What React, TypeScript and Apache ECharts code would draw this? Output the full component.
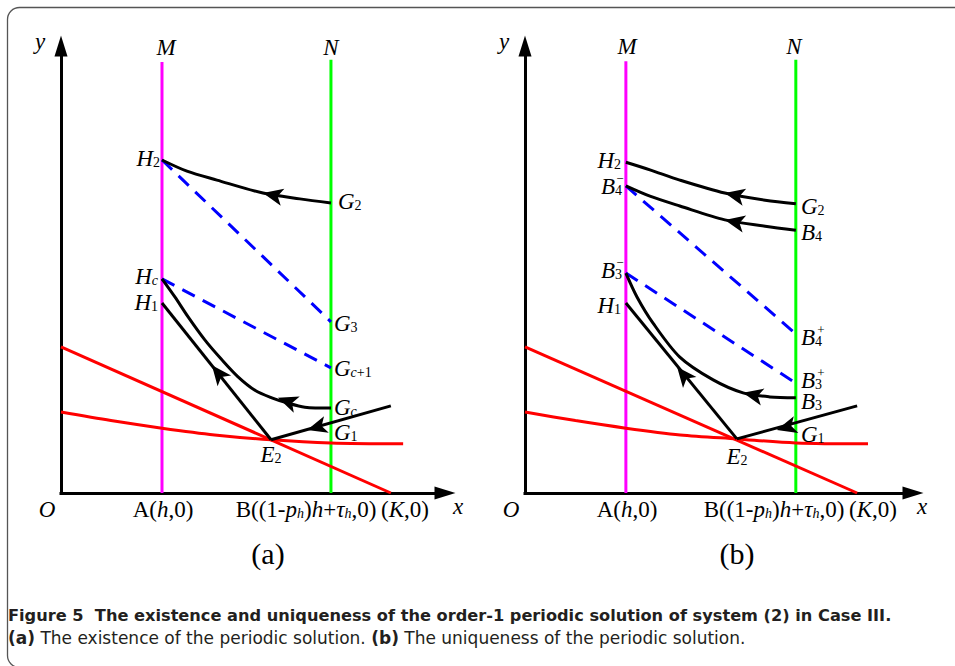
import React, { useEffect, useRef } from 'react';
import * as echarts from 'echarts';

// ---------- Panel (a) data (axis units: x 0..10, y 0..10) ----------
const aMagenta = [[2.63, 0], [2.63, 9.64]];
const aGreen = [[7.03, 0], [7.03, 9.69]];
const aRedLine = [[0, 3.27], [8.59, 0]];
const aRedCurve = [[0, 1.81], [1.3, 1.62], [2.63, 1.45], [4.0, 1.3], [5.47, 1.19], [7.03, 1.12], [8.91, 1.1]];
const aCurveG2H2 = [[7.03, 6.49], [6.22, 6.58], [5.26, 6.71], [4.06, 7.0], [3.28, 7.2], [2.63, 7.45]];
const aCurveGcHc = [
  [7.03, 1.9], [6.35, 1.92], [5.91, 2.01], [5.49, 2.13], [5.05, 2.3], [4.61, 2.6],
  [4.19, 2.98], [3.75, 3.42], [3.31, 3.94], [2.97, 4.38], [2.63, 4.79],
];
const aLineE2H1 = [[5.47, 1.19], [2.63, 4.25]];
const aLineG1E2 = [[8.59, 1.95], [5.47, 1.19]];
const aDashH2G3 = [[2.63, 7.45], [7.03, 3.83]];
const aDashHcGc1 = [[2.63, 4.79], [7.03, 2.8]];
// [x, y, rotation deg]
const aArrows = [[5.26, 6.71, 78], [5.65, 2.13, 70], [3.93, 2.86, 38.5], [6.41, 1.41, 105.8]];

// ---------- Panel (b) data ----------
const bMagenta = [[2.6, 0], [2.6, 9.66]];
const bGreen = [[6.98, 0], [6.98, 9.69]];
const bRedLine = [[0, 3.27], [8.56, 0]];
const bRedCurve = [[0, 1.81], [1.3, 1.62], [2.6, 1.45], [4.0, 1.3], [5.46, 1.21], [6.98, 1.12], [8.84, 1.1]];
const bCurveG2H2 = [[6.98, 6.47], [6.19, 6.55], [5.15, 6.71], [3.99, 7.0], [3.22, 7.23], [2.6, 7.4]];
const bCurveB4 = [[6.98, 5.88], [6.19, 5.97], [5.15, 6.11], [3.99, 6.42], [3.22, 6.64], [2.6, 6.87]];
const bCurveB3 = [
  [6.98, 2.13], [6.31, 2.15], [5.62, 2.24], [4.85, 2.53], [3.99, 3.04],
  [3.3, 3.8], [2.89, 4.38], [2.6, 4.92],
];
const bLineE2H1 = [[5.46, 1.21], [2.6, 4.25]];
const bLineG1E2 = [[8.56, 1.95], [5.46, 1.21]];
const bDashB4 = [[2.6, 6.87], [6.98, 3.56]];
const bDashB3 = [[2.6, 4.92], [6.98, 2.46]];
const bArrows = [[5.15, 6.71, 78], [5.15, 6.11, 78], [5.62, 2.24, 78], [3.92, 2.82, 39.2], [6.49, 1.41, 105.4]];

const captionTitle = 'Figure 5  The existence and uniqueness of the order-1 periodic solution of system (2) in Case III.';
const captionBody = ['(a)', ' The existence of the periodic solution. ', '(b)', ' The uniqueness of the periodic solution.'];

const SERIF = '"Liberation Serif", "Times New Roman", serif';
const SANS = '"DejaVu Sans", "Noto Sans", sans-serif';

const rich = {
  m: { fontFamily: SERIF, fontStyle: 'italic', fontSize: 23, lineHeight: 22, fill: '#000' },
  u: { fontFamily: SERIF, fontSize: 23, lineHeight: 22, fill: '#000' },
  ui: { fontFamily: SERIF, fontStyle: 'italic', fontSize: 23, lineHeight: 22, fill: '#000' },
  s: { fontFamily: SERIF, fontSize: 14, lineHeight: 10, verticalAlign: 'bottom', fill: '#000' },
  si: { fontFamily: SERIF, fontStyle: 'italic', fontSize: 14, lineHeight: 10, verticalAlign: 'bottom', fill: '#000' },
};

function txt(x: number, y: number, text: string, align: string = 'left') {
  return {
    type: 'text',
    x,
    y,
    silent: true,
    z: 100,
    style: {
      text,
      rich,
      align,
      textAlign: align,
      verticalAlign: 'middle',
      textVerticalAlign: 'middle',
      fill: '#000',
    },
  };
}

function small(x: number, y: number, text: string) {
  return {
    type: 'text',
    x,
    y,
    silent: true,
    z: 100,
    style: {
      text,
      font: `13px ${SERIF}`,
      fill: '#000',
      align: 'center',
      textAlign: 'center',
      verticalAlign: 'middle',
      textVerticalAlign: 'middle',
    },
  };
}

function line(data: number[][], idx: number, color: string, width = 3, smooth: any = false, dashed = false, z = 3) {
  return {
    type: 'line',
    xAxisIndex: idx,
    yAxisIndex: idx,
    data,
    smooth,
    symbol: 'none',
    showSymbol: false,
    silent: true,
    z,
    lineStyle: { color, width, type: dashed ? [14, 9] : 'solid', cap: 'butt' },
  };
}

function arrows(data: number[][], idx: number) {
  return {
    type: 'scatter',
    xAxisIndex: idx,
    yAxisIndex: idx,
    silent: true,
    z: 6,
    symbol: 'arrow',
    symbolSize: [13, 20],
    itemStyle: { color: '#000', opacity: 1 },
    data: data.map((d) => ({ value: [d[0], d[1]], symbolRotate: d[2] })),
  };
}

function axisPair(idx: number) {
  const common = {
    type: 'value',
    gridIndex: idx,
    min: 0,
    max: 10,
    axisTick: { show: false },
    axisLabel: { show: false },
    splitLine: { show: false },
    axisLine: {
      show: true,
      symbol: ['none', 'triangle'],
      symbolSize: [13, 21],
      lineStyle: { color: '#000', width: 3, cap: 'square' },
    },
  };
  return { x: { ...common }, y: { ...common } };
}

export default function App() {
  const ref = useRef<HTMLDivElement>(null);
  useEffect(() => {
    if (!ref.current) return;
    const chart = echarts.init(ref.current, null, { renderer: 'svg' });
    const ax0 = axisPair(0);
    const ax1 = axisPair(1);

    const graphics: any[] = [
      {
        type: 'rect',
        shape: { x: 7.5, y: 7.5, width: 1000, height: 660, r: 12 },
        style: { fill: 'none', stroke: '#555', lineWidth: 1.3 },
        silent: true,
        z: 0,
      },
      // panel (a) labels
      txt(40, 41, '{m|y}', 'center'),
      txt(166, 47, '{m|M}', 'center'),
      txt(331, 47, '{m|N}', 'center'),
      txt(47, 509, '{m|O}', 'center'),
      txt(458, 506, '{m|x}', 'center'),
      txt(160, 158, '{m|H}{s|2}', 'right'),
      txt(158, 276, '{m|H}{si|c}', 'right'),
      txt(158, 302, '{m|H}{s|1}', 'right'),
      txt(338, 201, '{m|G}{s|2}', 'left'),
      txt(334, 323, '{m|G}{s|3}', 'left'),
      txt(334, 368, '{m|G}{si|c}{s|+1}', 'left'),
      txt(334, 407, '{m|G}{si|c}', 'left'),
      txt(334, 432, '{m|G}{s|1}', 'left'),
      txt(271, 454, '{m|E}{s|2}', 'center'),
      txt(163, 509, '{u|A(}{ui|h}{u|,0)}', 'center'),
      txt(306, 509, '{u|B((1-}{ui|p}{si|h}{u|)}{ui|h}{u|+}{ui|τ}{si|h}{u|,0)}', 'center'),
      txt(405, 509, '{u|(}{ui|K}{u|,0)}', 'center'),
      {
        type: 'text', x: 268, y: 553, silent: true,
        style: { text: '(a)', font: `30px ${SERIF}`, fill: '#000', align: 'center', textAlign: 'center', verticalAlign: 'middle', textVerticalAlign: 'middle' },
      },
      // panel (b) labels
      txt(504, 41, '{m|y}', 'center'),
      txt(627, 46, '{m|M}', 'center'),
      txt(794, 46, '{m|N}', 'center'),
      txt(511, 509, '{m|O}', 'center'),
      txt(922, 506, '{m|x}', 'center'),
      txt(621, 160, '{m|H}{s|2}', 'right'),
      txt(622, 186, '{m|B}{s|4}', 'right'),
      small(620, 178, '−'),
      txt(622, 270, '{m|B}{s|3}', 'right'),
      small(620, 262, '−'),
      txt(621, 305, '{m|H}{s|1}', 'right'),
      txt(801, 206, '{m|G}{s|2}', 'left'),
      txt(801, 232, '{m|B}{s|4}', 'left'),
      txt(801, 337, '{m|B}{s|4}', 'left'),
      small(821, 329, '+'),
      txt(801, 380, '{m|B}{s|3}', 'left'),
      small(821, 372, '+'),
      txt(801, 401, '{m|B}{s|3}', 'left'),
      txt(801, 434, '{m|G}{s|1}', 'left'),
      txt(737, 456, '{m|E}{s|2}', 'center'),
      txt(627, 509, '{u|A(}{ui|h}{u|,0)}', 'center'),
      txt(774, 509, '{u|B((1-}{ui|p}{si|h}{u|)}{ui|h}{u|+}{ui|τ}{si|h}{u|,0)}', 'center'),
      txt(873, 509, '{u|(}{ui|K}{u|,0)}', 'center'),
      {
        type: 'text', x: 737, y: 553, silent: true,
        style: { text: '(b)', font: `30px ${SERIF}`, fill: '#000', align: 'center', textAlign: 'center', verticalAlign: 'middle', textVerticalAlign: 'middle' },
      },
      // caption
      {
        type: 'text', x: 8, y: 615, silent: true,
        style: { text: captionTitle, font: `bold 16.2px ${SANS}`, fill: '#231f20', align: 'left', textAlign: 'left', verticalAlign: 'middle', textVerticalAlign: 'middle' },
      },
      {
        type: 'text', x: 8, y: 638, silent: true,
        style: {
          text: `{b|${captionBody[0]}}{r|${captionBody[1]}}{b|${captionBody[2]}}{r|${captionBody[3]}}`,
          rich: {
            b: { fontFamily: SANS, fontWeight: 'bold', fontSize: 17, fill: '#231f20' },
            r: { fontFamily: SANS, fontSize: 17, fill: '#231f20' },
          },
          align: 'left', textAlign: 'left', verticalAlign: 'middle', textVerticalAlign: 'middle',
        },
      },
    ];

    chart.setOption({
      animation: false,
      backgroundColor: '#fff',
      grid: [
        { left: 61, top: 46, width: 384, height: 447 },
        { left: 525, top: 46, width: 388, height: 447 },
      ],
      xAxis: [ax0.x, ax1.x],
      yAxis: [ax0.y, ax1.y],
      series: [
        line(aMagenta, 0, '#ff00ff', 3, false, false, 2),
        line(aGreen, 0, '#00ff00', 3, false, false, 2),
        line(aRedLine, 0, '#ff0000', 3, false, false, 3),
        line(aRedCurve, 0, '#ff0000', 3, 0.3, false, 3),
        line(aDashH2G3, 0, '#0000ff', 3, false, true, 4),
        line(aDashHcGc1, 0, '#0000ff', 3, false, true, 4),
        line(aCurveG2H2, 0, '#000', 3, 0.3, false, 5),
        line(aCurveGcHc, 0, '#000', 3, 0.3, false, 5),
        line(aLineE2H1, 0, '#000', 3, false, false, 5),
        line(aLineG1E2, 0, '#000', 3, false, false, 5),
        arrows(aArrows, 0),
        line(bMagenta, 1, '#ff00ff', 3, false, false, 2),
        line(bGreen, 1, '#00ff00', 3, false, false, 2),
        line(bRedLine, 1, '#ff0000', 3, false, false, 3),
        line(bRedCurve, 1, '#ff0000', 3, 0.3, false, 3),
        line(bDashB4, 1, '#0000ff', 3, false, true, 4),
        line(bDashB3, 1, '#0000ff', 3, false, true, 4),
        line(bCurveG2H2, 1, '#000', 3, 0.3, false, 5),
        line(bCurveB4, 1, '#000', 3, 0.3, false, 5),
        line(bCurveB3, 1, '#000', 3, 0.3, false, 5),
        line(bLineE2H1, 1, '#000', 3, false, false, 5),
        line(bLineG1E2, 1, '#000', 3, false, false, 5),
        arrows(bArrows, 1),
      ],
      graphic: graphics,
    });
    return () => chart.dispose();
  }, []);
  return (
    <div
      ref={ref}
      style={{ position: 'fixed', left: 0, top: 0, width: 955, height: 666, background: '#fff' }}
    />
  );
}
